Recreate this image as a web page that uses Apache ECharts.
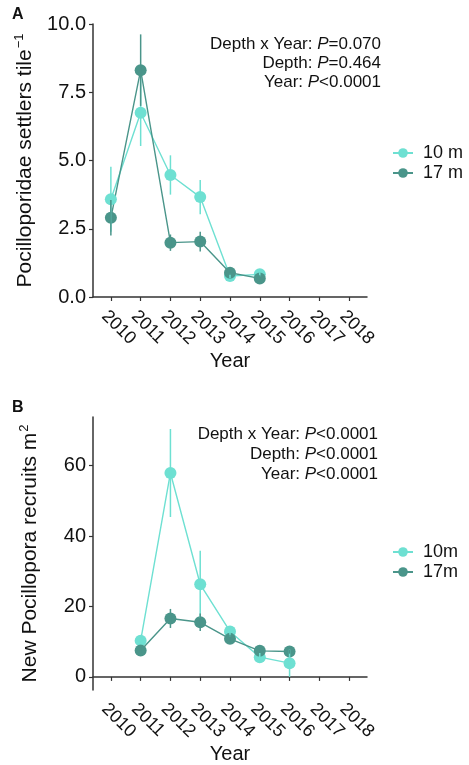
<!DOCTYPE html>
<html>
<head>
<meta charset="utf-8">
<script src="https://cdn.jsdelivr.net/npm/echarts@6/dist/echarts.min.js"></script>
<style>
  html, body { margin: 0; padding: 0; background: #fff; }
  #chart { width: 469px; height: 765px; }
</style>
</head>
<body>
<div id="chart"></div>
<script>
// tick years on both x axes
const years = [2010, 2011, 2012, 2013, 2014, 2015, 2016, 2017, 2018]

// panel A: settlers per tile
const yearsA = [2010, 2011, 2012, 2013, 2014, 2015]
const settlers10 = [3.58, 6.75, 4.47, 3.66, 0.77, 0.83]
const settlers10Se = [1.19, 1.22, 0.72, 0.63, 0.08, 0.08]
const settlers17 = [2.9, 8.31, 1.99, 2.03, 0.89, 0.68]
const settlers17Se = [0.65, 1.31, 0.3, 0.36, 0.08, 0.12]
const ticksA = [0, 2.5, 5, 7.5, 10]
const statsA = ["Depth x Year: {i|P}=0.070", "Depth: {i|P}=0.464", "Year: {i|P}<0.0001"]

// panel B: new Pocillopora recruits per m2
const yearsB = [2011, 2012, 2013, 2014, 2015, 2016]
const recruits10 = [10.3, 57.9, 26.3, 12.9, 5.6, 3.9]
const recruits10Se = [1.0, 12.5, 9.5, 1.5, 1.2, 3.9]
const recruits17 = [7.5, 16.6, 15.5, 10.8, 7.4, 7.2]
const recruits17Se = [0.8, 2.7, 2.5, 1.2, 0.5, 0.6]
const ticksB = [0, 20, 40, 60]
const statsB = ["Depth x Year: {i|P}<0.0001", "Depth: {i|P}<0.0001", "Year: {i|P}<0.0001"]

const light = "#6ee0d2"
const dark = "#4a958a"
const axisCol = "#333333"
const font = "Liberation Sans"

const pairs = (xs, ys) => xs.map((x, i) => [x, ys[i]])
const bars = (xs, ys, se) => xs.map((x, i) => [x, ys[i] - se[i], ys[i] + se[i]])

function errorSeries(idx, data, color) {
    return {
        type: "custom",
        xAxisIndex: idx,
        yAxisIndex: idx,
        z: 5,
        silent: true,
        data: data,
        renderItem: (params, api) => {
            const lo = api.coord([api.value(0), api.value(1)])
            const hi = api.coord([api.value(0), api.value(2)])
            return {
                type: "line",
                shape: { x1: lo[0], y1: lo[1], x2: hi[0], y2: hi[1] },
                style: { stroke: color, lineWidth: 1.5 }
            }
        }
    }
}

function lineSeries(idx, name, data, color) {
    return {
        type: "line",
        name: name,
        xAxisIndex: idx,
        yAxisIndex: idx,
        data: data,
        symbol: "circle",
        symbolSize: 12,
        lineStyle: { color: color, width: 1.4 },
        itemStyle: { color: color },
        z: 3
    }
}

function xAxis(idx) {
    return {
        type: "value",
        gridIndex: idx,
        min: 2009.4,
        max: 2018.6,
        name: "Year",
        nameLocation: "middle",
        nameGap: 53,
        nameTextStyle: { fontFamily: font, fontSize: 20, color: "#111" },
        axisLine: { lineStyle: { color: axisCol, width: 1.5 } },
        axisTick: { show: true, customValues: years, length: 4, lineStyle: { color: axisCol, width: 1.2 } },
        axisLabel: {
            customValues: years,
            rotate: -45,
            align: "left",
            verticalAlign: "top",
            margin: 10,
            fontFamily: font,
            fontSize: 18,
            color: "#111",
            formatter: v => String(v)
        },
        splitLine: { show: false }
    }
}

function yName(text) {
    return {
        name: text,
        nameLocation: "middle",
        nameRotate: 90,
        nameGap: 50,
        nameTextStyle: {
            rich: {
                a: { fontFamily: font, fontSize: 21, color: "#111" },
                s: { fontFamily: font, fontSize: 13, color: "#111", padding: [0, 0, 12, 1] }
            }
        }
    }
}

function statTexts(lines, right, top, step) {
    return lines.map((t, i) => ({
        type: "text",
        right: right,
        top: top + i * step,
        style: {
            text: t,
            fontFamily: font,
            fontSize: 17,
            fill: "#111",
            rich: { i: { fontStyle: "italic", fontFamily: font, fontSize: 17, fill: "#111" } }
        }
    }))
}

function legend(names, top) {
    return {
        data: names,
        orient: "vertical",
        left: 387,
        top: top,
        itemWidth: 20,
        itemHeight: 12,
        itemGap: 2,
        textStyle: { fontFamily: font, fontSize: 18, color: "#111", padding: [0, 0, 0, 5] }
    }
}

const chart = echarts.init(document.getElementById("chart"))

const option = {
    animation: false,
    backgroundColor: "#fff",
    grid: [
        { left: 93, top: 24, width: 274, height: 273 },
        { left: 93, top: 417, width: 274, height: 275 }
    ],
    xAxis: [xAxis(0), xAxis(1)],
    yAxis: [
        Object.assign(yName("{a|Pocilloporidae settlers tile}{s|−1}"), {
            type: "value",
            gridIndex: 0,
            min: 0,
            max: 10,
            interval: 2.5,
            axisLine: { show: true, lineStyle: { color: axisCol, width: 1.5 } },
            axisTick: { show: true, length: 4, lineStyle: { color: axisCol, width: 1.2 } },
            axisLabel: {
                margin: 7,
                fontFamily: font,
                fontSize: 20,
                color: "#111",
                formatter: v => v.toFixed(1)
            },
            splitLine: { show: false }
        }),
        Object.assign(yName("{a|New Pocillopora recruits m}{s|2}"), {
            type: "value",
            gridIndex: 1,
            min: -3.7,
            max: 73.8,
            axisLine: { show: true, lineStyle: { color: axisCol, width: 1.5 } },
            axisTick: { show: true, customValues: ticksB, length: 4, lineStyle: { color: axisCol, width: 1.2 } },
            axisLabel: {
                customValues: ticksB,
                margin: 7,
                fontFamily: font,
                fontSize: 20,
                color: "#111"
            },
            splitLine: { show: false }
        })
    ],
    legend: [legend(["10 m", "17 m"], 139), legend(["10m", "17m"], 538)],
    graphic: [
        { type: "text", left: 12, top: 7, style: { text: "A", fontFamily: font, fontSize: 16, fontWeight: "bold", fill: "#111" } },
        { type: "text", left: 12, top: 400, style: { text: "B", fontFamily: font, fontSize: 16, fontWeight: "bold", fill: "#111" } }
    ]
        .concat(statTexts(statsA, 88, 36, 19))
        .concat(statTexts(statsB, 91, 426, 20)),
    series: [
        lineSeries(0, "10 m", pairs(yearsA, settlers10), light),
        lineSeries(0, "17 m", pairs(yearsA, settlers17), dark),
        errorSeries(0, bars(yearsA, settlers10, settlers10Se), light),
        errorSeries(0, bars(yearsA, settlers17, settlers17Se), dark),
        lineSeries(1, "10m", pairs(yearsB, recruits10), light),
        lineSeries(1, "17m", pairs(yearsB, recruits17), dark),
        errorSeries(1, bars(yearsB, recruits10, recruits10Se), light),
        errorSeries(1, bars(yearsB, recruits17, recruits17Se), dark)
    ]
}

chart.setOption(option)
</script>
</body>
</html>
